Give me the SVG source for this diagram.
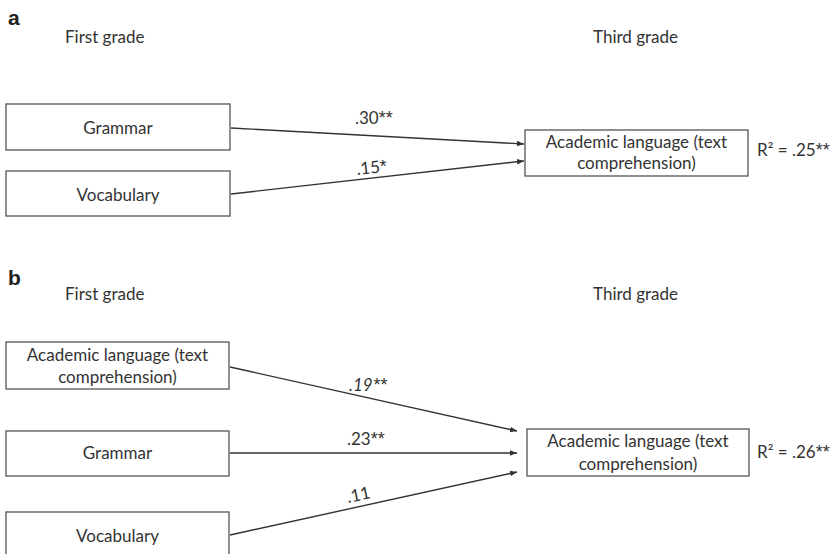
<svg xmlns="http://www.w3.org/2000/svg" width="838" height="554" viewBox="0 0 838 554">
<style>
text{font-family:Lato,"Liberation Sans",sans-serif;font-size:17px;fill:#333}
.panel{font-family:"Liberation Sans",Arial,sans-serif;font-weight:bold;font-size:21px;fill:#222}
.c{text-anchor:middle}
.ast{font-family:"Liberation Sans",Arial,sans-serif;font-size:18px}
.box{fill:#fff;stroke:#555;stroke-width:1.3}
.edge{stroke:#333;stroke-width:1.4;fill:none;marker-end:url(#ah)}
</style>
<defs>
<marker id="ah" viewBox="0 0 10 10" refX="10" refY="5" markerWidth="7" markerHeight="7" markerUnits="userSpaceOnUse" orient="auto">
<path d="M0,1 L10,5 L0,9 Z" fill="#333"/>
</marker>
</defs>
<rect width="838" height="554" fill="#fff"/>

<g id="panel-a-labels">
<text class="panel" x="8" y="25">a</text>
<text x="65" y="43">First grade</text>
<text x="593" y="43">Third grade</text>
<text x="757" y="156">R² = .25<tspan class="ast">**</tspan></text>
</g>

<g id="connectors">
<line class="edge" x1="231" y1="128" x2="524" y2="144"/>
<line class="edge" x1="231" y1="194" x2="524" y2="161"/>
<line class="edge" x1="230" y1="367" x2="517" y2="431"/>
<line class="edge" x1="230" y1="453" x2="517" y2="453"/>
<line class="edge" x1="230" y1="535" x2="517" y2="472"/>
<text x="355" y="124">.30<tspan class="ast">**</tspan></text>
<text x="357" y="175" transform="rotate(-6 357 175)">.15<tspan class="ast">*</tspan></text>
<text x="349" y="391" font-style="italic">.19<tspan class="ast">**</tspan></text>
<text x="347" y="445">.23<tspan class="ast">**</tspan></text>
<text x="348" y="503" transform="rotate(-12 348 503)">.11</text>
</g>

<g id="a-grammar">
<rect class="box" x="6" y="104" width="224" height="46"/>
<text class="c" x="118" y="134">Grammar</text>
</g>
<g id="a-vocabulary">
<rect class="box" x="6" y="171" width="224" height="45"/>
<text class="c" x="118" y="201">Vocabulary</text>
</g>
<g id="a-academic">
<rect class="box" x="525" y="130" width="223" height="46"/>
<text class="c" x="636.5" y="148">Academic language (text</text>
<text class="c" x="636.5" y="169">comprehension)</text>
</g>

<g id="panel-b-labels">
<text class="panel" x="8" y="285">b</text>
<text x="65" y="300">First grade</text>
<text x="593" y="300">Third grade</text>
<text x="757" y="458">R² = .26<tspan class="ast">**</tspan></text>
</g>

<g id="b-academic1">
<rect class="box" x="6" y="342" width="223" height="47"/>
<text class="c" x="117.5" y="361">Academic language (text</text>
<text class="c" x="117.5" y="383">comprehension)</text>
</g>
<g id="b-grammar">
<rect class="box" x="6" y="431" width="223" height="45"/>
<text class="c" x="117.5" y="459">Grammar</text>
</g>
<g id="b-vocabulary">
<rect class="box" x="6" y="512" width="223" height="46"/>
<text class="c" x="117.5" y="542">Vocabulary</text>
</g>
<g id="b-academic3">
<rect class="box" x="527" y="429" width="222" height="47"/>
<text class="c" x="638" y="447">Academic language (text</text>
<text class="c" x="638" y="470">comprehension)</text>
</g>
</svg>
